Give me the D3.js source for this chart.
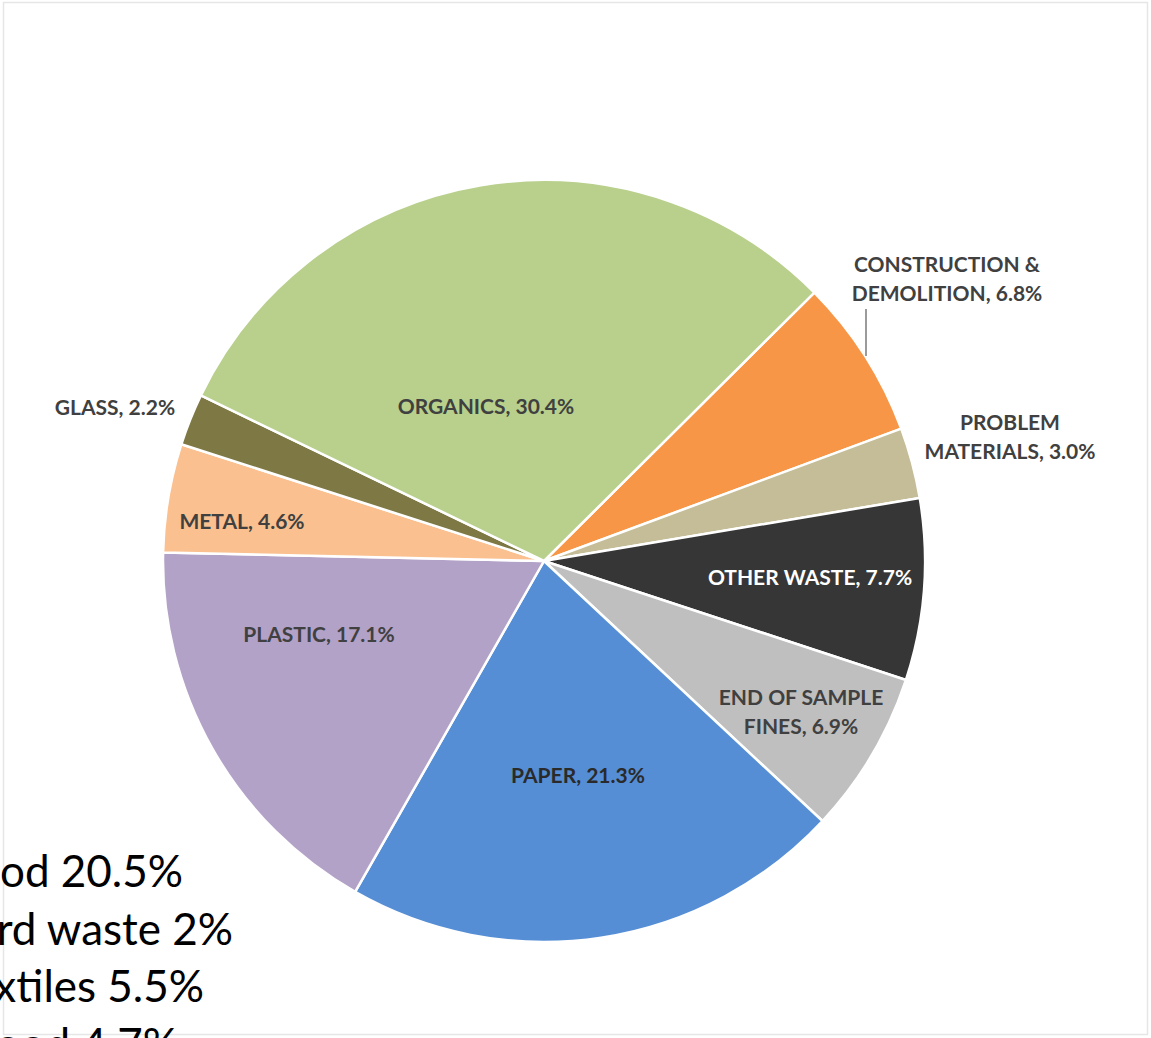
<!DOCTYPE html>
<html>
  <head>
    <meta charset="utf-8">
    <title>Waste Composition</title>
    <script src="https://cdn.jsdelivr.net/npm/d3@7"></script>
    <style>
body { margin: 0; background: #fff; }
svg { display: block; }
    </style>
  </head>
  <body>
    <script>

// slices, clockwise starting from the organics/construction boundary
var categories = ["CONSTRUCTION &\nDEMOLITION", "PROBLEM\nMATERIALS", "OTHER WASTE",
                  "END OF SAMPLE\nFINES", "PAPER", "PLASTIC", "METAL", "GLASS", "ORGANICS"];
var shares = [6.8, 3.0, 7.7, 6.9, 21.3, 17.1, 4.6, 2.2, 30.4];
var colors = ["#f79646", "#c4bd97", "#363636", "#bfbfbf", "#558ed5", "#b3a2c7", "#fac090", "#7d7844", "#b8d08c"];

// the overlapping slide text at bottom left (cut off at the page edge)
var sideNotes = ["ood 20.5%", "rd waste 2%", "xtiles 5.5%", "ood 4.7%"];

var w = 1151,
    h = 1038,
    cx = 544,
    cy = 561,
    r = 381,
    start = 45.2 * Math.PI / 180;

// label anchors relative to the pie centre (Excel "best fit" placement)
var labelPos = [[403, -282], [466, -124], [266, 17], [257, 151], [34, 215],
                [-225, 74], [-302, -39], [-429, -153], [-58, -154]];
var labelFill = ["#404040", "#404040", "#ffffff", "#404040", "#2a2a2a", "#404040", "#404040", "#404040", "#404040"];

var svg = d3.select("body").append("svg")
    .attr("width", w)
    .attr("height", h);

// faint frame of the original slide
svg.append("rect")
    .attr("x", 3.5).attr("y", 2.5)
    .attr("width", 1144).attr("height", 1032)
    .attr("fill", "none")
    .attr("stroke", "#e6e6e6")
    .attr("stroke-width", 1.5);

var pie = d3.pie()
    .value(function(d) { return d; })
    .sort(null)
    .startAngle(start)
    .endAngle(start + 2 * Math.PI);

var arc = d3.arc()
    .innerRadius(0)
    .outerRadius(r);

var g = svg.append("g")
    .attr("transform", "translate(" + cx + "," + cy + ")");

g.selectAll("path.slice")
    .data(pie(shares))
  .enter().append("path")
    .attr("class", "slice")
    .attr("d", arc)
    .attr("fill", function(d, i) { return colors[i]; })
    .attr("stroke", "#fff")
    .attr("stroke-width", 2.5)
    .attr("stroke-linejoin", "round");

// leader line for construction & demolition
g.append("line")
    .attr("x1", 322).attr("y1", -252)
    .attr("x2", 322).attr("y2", -205)
    .attr("stroke", "#595959")
    .attr("stroke-width", 1.2);

var labels = g.selectAll("text.label")
    .data(categories)
  .enter().append("text")
    .attr("class", "label")
    .attr("text-anchor", "middle")
    .attr("fill", function(d, i) { return labelFill[i]; })
    .style("font", "bold 21px Lato, sans-serif")
    .attr("transform", function(d, i) { return "translate(" + labelPos[i] + ")"; });

labels.each(function(d, i) {
  var lines = (d + ", " + shares[i].toFixed(1) + "%").split("\n"),
      t = d3.select(this);
  lines.forEach(function(s, j) {
    t.append("tspan")
        .attr("x", 0)
        .attr("y", (j - (lines.length - 1) / 2) * 29.5)
        .attr("dy", ".35em")
        .text(s);
  });
});

var noteEnds = [183, 233, 204, 178];

svg.selectAll("text.note")
    .data(sideNotes)
  .enter().append("text")
    .attr("class", "note")
    .attr("x", function(d, i) { return noteEnds[i]; })
    .attr("y", function(d, i) { return 887 + i * 57.5; })
    .attr("text-anchor", "end")
    .attr("fill", "#000")
    .style("font", "44px Lato, sans-serif")
    .text(function(d) { return d; });

    </script>
  </body>
</html>
